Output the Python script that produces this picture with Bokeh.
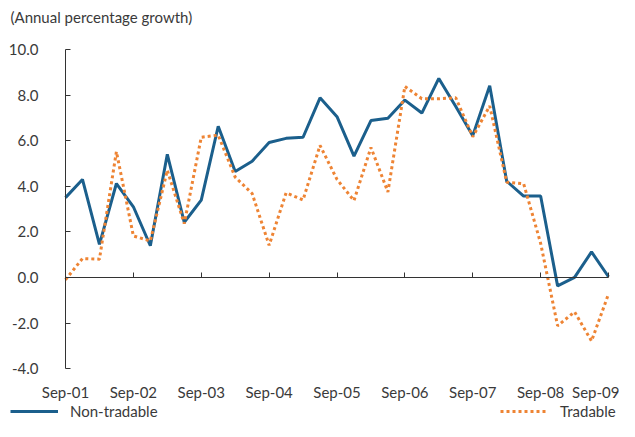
from bokeh.plotting import figure
from bokeh.models import (Range1d, FixedTicker, Legend, LegendItem, LinearAxis,
                          NumeralTickFormatter)
from bokeh.embed import file_html
from bokeh.resources import INLINE

# Quarterly, Sep-01 .. Sep-09
quarters = list(range(33))
non_tradable = [3.5, 4.3, 1.45, 4.12, 3.1, 1.39, 5.4, 2.42, 3.39, 6.63, 4.65, 5.1,
                5.92, 6.1, 6.15, 7.88, 7.05, 5.32, 6.88, 6.98, 7.78, 7.21, 8.73, 7.5,
                6.22, 8.41, 4.22, 3.57, 3.57, -0.37, 0.0, 1.12, 0.03]
tradable = [-0.1, 0.83, 0.8, 5.52, 1.82, 1.6, 4.7, 2.36, 6.15, 6.24, 4.4, 3.68,
            1.41, 3.71, 3.4, 5.79, 4.3, 3.37, 5.7, 3.75, 8.38, 7.84, 7.84, 7.88,
            6.17, 7.52, 4.18, 4.11, 1.5, -2.12, -1.51, -2.79, -0.73]
tick_positions = [0, 4, 8, 12, 16, 20, 24, 28, 32]
tick_labels = ["Sep-01", "Sep-02", "Sep-03", "Sep-04", "Sep-05", "Sep-06",
               "Sep-07", "Sep-08", "Sep-09"]
y_ticks = [-4, -2, 0, 2, 4, 6, 8, 10]

FONT = "Lato"
TXT = "#3a3a3a"
AX = "#333333"

# ---- layout (pixels) ----
W, H = 619, 421
TOP = 30                      # frame top (canvas px); title sits above it
PLOT_L, PLOT_R = 65, 608      # where the first / last quarter sit
PLOT_T, PLOT_B = 48, 368      # where y = 10 / y = -4 sit
x_lo, x_hi = quarters[0], quarters[-1]
y_lo, y_hi = y_ticks[0], y_ticks[-1]
xs = (PLOT_R - PLOT_L) / (x_hi - x_lo)
ys = (PLOT_B - PLOT_T) / (y_hi - y_lo)
x_range = Range1d(x_lo - PLOT_L / xs, x_hi + (W - PLOT_R) / xs)
y_range = Range1d(y_lo - (H - PLOT_B) / ys, y_hi + (PLOT_T - TOP) / ys)

p = figure(width=W, height=H, output_backend="svg", toolbar_location=None,
           x_range=x_range, y_range=y_range,
           min_border_left=0, min_border_right=0, min_border_top=TOP,
           min_border_bottom=0)
p.outline_line_color = None
p.grid.grid_line_color = None
p.background_fill_color = "white"
p.border_fill_color = "white"

p.title.text = "(Annual percentage growth)"
p.title.text_font = FONT
p.title.text_font_size = "15px"
p.title.text_font_style = "normal"
p.title.text_color = TXT
p.title.align = "left"
p.title.offset = 10
p.title.standoff = 11

# bottom axis: labels only, pinned at the bottom of the value range
xa = p.xaxis[0]
xa.fixed_location = y_lo
xa.ticker = FixedTicker(ticks=tick_positions)
xa.major_label_overrides = {t: l for t, l in zip(tick_positions, tick_labels)}
xa.axis_line_color = None
xa.major_tick_line_color = None
xa.minor_tick_line_color = None
xa.major_label_text_font = FONT
xa.major_label_text_font_size = "15px"
xa.major_label_text_color = TXT
xa.major_label_standoff = 8

# zero axis: line + inward ticks
za = LinearAxis(ticker=FixedTicker(ticks=tick_positions), fixed_location=0,
                bounds=(x_lo, x_hi))
za.axis_line_color = AX
za.major_tick_line_color = AX
za.major_tick_in = 5
za.major_tick_out = 0
za.minor_tick_line_color = None
za.major_label_text_color = None
za.major_label_text_font_size = "1px"
p.add_layout(za, "below")

ya = p.yaxis[0]
ya.fixed_location = x_lo
ya.bounds = (y_lo, y_hi)
ya.ticker = FixedTicker(ticks=y_ticks)
ya.formatter = NumeralTickFormatter(format="0.0")
ya.axis_line_color = AX
ya.major_tick_line_color = AX
ya.major_tick_in = 5
ya.major_tick_out = 0
ya.minor_tick_line_color = None
ya.major_label_text_font = FONT
ya.major_label_text_font_size = "15px"
ya.major_label_text_color = TXT
ya.major_label_standoff = 27

r1 = p.line(quarters, non_tradable, line_color="#1b5f8c", line_width=3)
r2 = p.line(quarters, tradable, line_color="#ee8434", line_width=3,
            line_dash="3 3")

common = dict(orientation="horizontal", glyph_width=48, label_standoff=12,
              padding=0, margin=0, border_line_color=None,
              background_fill_alpha=0, label_text_font=FONT,
              label_text_font_size="15px", label_text_color=TXT)
leg1 = Legend(items=[LegendItem(label="Non-tradable", renderers=[r1])],
              location=(10, 0), **common)
leg2 = Legend(items=[LegendItem(label="Tradable", renderers=[r2])],
              location=(500, 0), **common)
p.add_layout(leg1, "center")
p.add_layout(leg2, "center")

open("out.html", "w").write(file_html(p, INLINE))
